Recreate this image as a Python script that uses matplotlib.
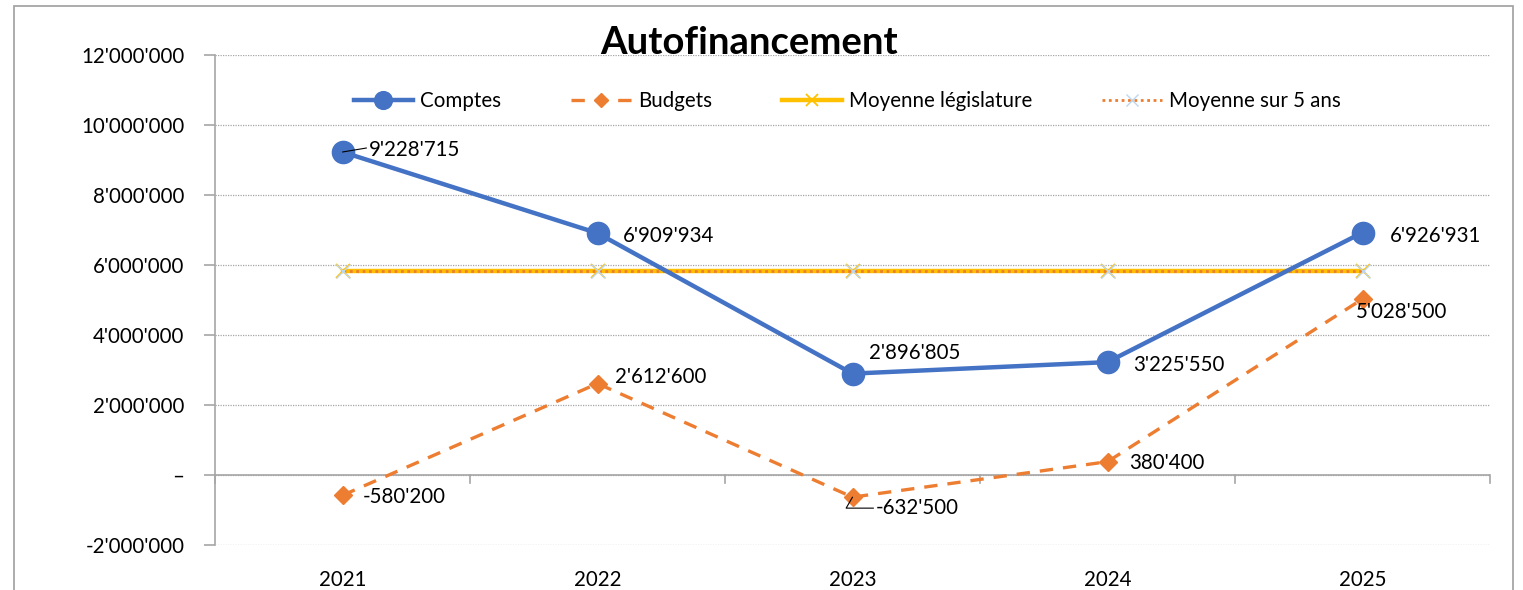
import matplotlib
matplotlib.use("Agg")
import matplotlib.pyplot as plt
from matplotlib.patches import Rectangle
from matplotlib.ticker import FuncFormatter

plt.rcParams['font.family'] = ['Lato', 'DejaVu Sans']

years = ["2021", "2022", "2023", "2024", "2025"]
comptes = [9228715, 6909934, 2896805, 3225550, 6926931]
budgets = [-580200, 2612600, -632500, 380400, 5028500]
moyenne_legislature = [5837587, 5837587, 5837587, 5837587, 5837587]
moyenne_5_ans = [5837587, 5837587, 5837587, 5837587, 5837587]

C_BLUE = "#4472C4"
C_ORANGE = "#ED7D31"
C_YELLOW = "#FFC000"
FS = 14.8

W, H = 1523, 590
fig = plt.figure(figsize=(W / 100, H / 100), dpi=100)
ax = fig.add_axes([215 / W, 1 - 545 / H, (1490 - 215) / W, (545 - 55) / H])

x = list(range(len(years)))

ax.plot(x, moyenne_legislature, color=C_YELLOW, lw=3.2, marker="x", ms=10, mew=1.3,
        label="Moyenne législature", zorder=3)
ax.plot(x, moyenne_5_ans, color=C_ORANGE, lw=2.0, ls=(0, (1, 1.3)), marker="x", ms=10,
        mew=1.0, mec="#BDD7EE", label="Moyenne sur 5 ans", zorder=4)
ax.plot(x, budgets, color=C_ORANGE, lw=2.4, ls=(0, (4, 3)), marker="D", ms=9,
        label="Budgets", zorder=5)
ax.plot(x, comptes, color=C_BLUE, lw=3.2, marker="o", ms=16, label="Comptes", zorder=6)

def fmt(v):
    s = f"{abs(int(round(v))):,}".replace(",", "'")
    return ("-" if v < 0 else "") + s

comptes_off = [(26, 2), (25, -3), (16, 21), (26, -3), (27, -3)]
budgets_off = [(20, -2), (17, 7), (23, -11), (22, -1), (-7, -13)]
for i, v in enumerate(comptes):
    ax.annotate(fmt(v), (i, v), xytext=comptes_off[i], textcoords="offset pixels",
                ha="left", va="center", fontsize=FS, color="black", zorder=8)
for i, v in enumerate(budgets):
    ax.annotate(fmt(v), (i, v), xytext=budgets_off[i], textcoords="offset pixels",
                ha="left", va="center", fontsize=FS, color="black", zorder=8)

# leader lines
ax.annotate("", (0, comptes[0]), xytext=(24, 4), textcoords="offset pixels",
            arrowprops=dict(arrowstyle="-", color="black", lw=0.8, shrinkA=0, shrinkB=0), zorder=9)
ax.annotate("", (2, budgets[2]), xytext=(21, -11), textcoords="offset pixels",
            arrowprops=dict(arrowstyle="-", color="black", lw=0.8, shrinkA=0, shrinkB=0,
                            connectionstyle="angle,angleA=0,angleB=60"), zorder=9)

ax.set_xlim(-0.5, len(years) - 0.5)
ax.set_ylim(-2000000, 12000000)
ax.set_yticks(range(-2000000, 12000001, 2000000))
ax.yaxis.set_major_formatter(FuncFormatter(lambda v, p: "–" if v == 0 else fmt(v)))
ax.grid(axis="y", color="#A6A6A6", ls=(0, (1, 1)), lw=0.9)
ax.set_axisbelow(True)
ax.axhline(0, color="#A6A6A6", lw=1.2, zorder=2)
for k in range(len(years) + 1):
    ax.plot([k - 0.5, k - 0.5], [0, -230000], color="#A6A6A6", lw=1.2, zorder=2,
            clip_on=False)

for s in ["top", "right", "bottom"]:
    ax.spines[s].set_visible(False)
ax.spines["left"].set_color("#A6A6A6")
ax.spines["left"].set_linewidth(1.2)
ax.tick_params(axis="y", length=8, color="#A6A6A6", width=1.2, labelsize=FS, pad=14)
ax.set_xticks(x)
ax.set_xticklabels(years)
ax.tick_params(axis="x", length=0, labelsize=FS, pad=18)

fig.text(749 / W, 1 - 43 / H, "Autofinancement", ha="center", va="center",
         fontsize=27.5, fontweight="bold")

handles, labels = ax.get_legend_handles_labels()
order = [3, 2, 0, 1]
ax.legend([handles[i] for i in order], [labels[i] for i in order], ncol=4,
          loc="center", bbox_to_anchor=(847 / W, 1 - 101 / H), bbox_transform=fig.transFigure,
          frameon=False, fontsize=FS, handlelength=2.9, handletextpad=0.35,
          columnspacing=3.4, markerscale=0.8)

fig.patches.append(Rectangle((14 / W, -0.05), (1513 - 14) / W, 1.05 - 6 / H,
                             transform=fig.transFigure, fill=False, edgecolor="#A6A6A6",
                             lw=1.3))

fig.savefig("out.png", dpi=100)
